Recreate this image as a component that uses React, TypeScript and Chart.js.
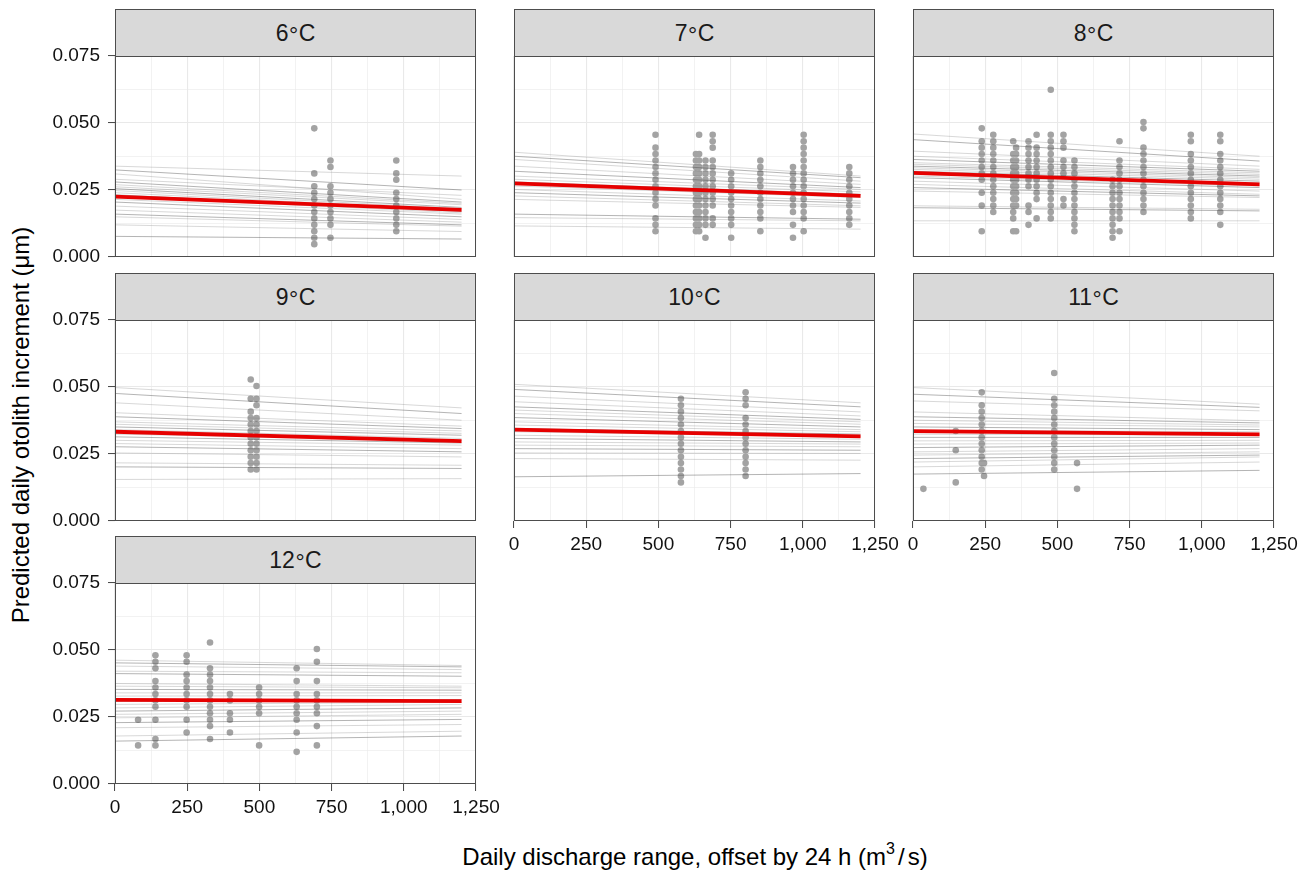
import React, { useEffect, useRef } from 'react';
import { Chart, registerables } from 'chart.js';

Chart.register(...registerables);

const FONT = "'Liberation Sans', Arial, Helvetica, sans-serif";

// ---------- tick definitions ----------
const xMajorTicks = [0, 250, 500, 750, 1000, 1250];
const xMinorTicks = [125, 375, 625, 875, 1125];
const yMajorTicks = [0, 0.025, 0.05, 0.075];
const yMinorTicks = [0.0125, 0.0375, 0.0625];

// x positions used for every predicted line
const lineX = [0, 1200];

// ---------- facet labels (temperature, °C) ----------
const facetTemps = ['6', '7', '8', '9', '10', '11', '12'];

// ---------- 6 °C ----------
const pts6X = [690, 746, 974];
const pts6Y = [
  [0.0048, 0.0072, 0.0096, 0.012, 0.0144, 0.0168, 0.0192, 0.0216, 0.024, 0.0264, 0.0312, 0.048],
  [0.0072, 0.012, 0.0144, 0.0168, 0.0192, 0.0216, 0.024, 0.0264, 0.0336, 0.036],
  [0.0096, 0.012, 0.0144, 0.0168, 0.0192, 0.0216, 0.024, 0.0288, 0.0312, 0.036],
];
const lines6Start = [0.0339, 0.0325, 0.031, 0.029, 0.028, 0.027, 0.0262, 0.0255, 0.0248, 0.024, 0.0232, 0.0225, 0.0215, 0.0205, 0.019, 0.0175, 0.016, 0.015, 0.012, 0.0077];
const lines6End = [0.0302, 0.025, 0.0215, 0.023, 0.0205, 0.02, 0.0195, 0.0185, 0.018, 0.0175, 0.017, 0.0165, 0.016, 0.015, 0.014, 0.013, 0.012, 0.0115, 0.0095, 0.0067];
const fixed6 = [0.0225, 0.0176];

// ---------- 7 °C ----------
const pts7X = [490, 630, 641, 663, 688, 752, 853, 966, 1003, 1161];
const pts7Y = [
  [0.0096, 0.012, 0.0144, 0.0192, 0.0216, 0.024, 0.0264, 0.0288, 0.0312, 0.0336, 0.036, 0.0384, 0.0408, 0.0456],
  [0.0096, 0.012, 0.0144, 0.0168, 0.0192, 0.0216, 0.024, 0.0264, 0.0288, 0.0312, 0.0336, 0.036, 0.0384],
  [0.0096, 0.012, 0.0144, 0.0168, 0.0192, 0.0216, 0.024, 0.0264, 0.0288, 0.0312, 0.0336, 0.036, 0.0384, 0.0456],
  [0.0072, 0.012, 0.0144, 0.0168, 0.0192, 0.0216, 0.024, 0.0264, 0.0288, 0.0312, 0.0336, 0.036],
  [0.012, 0.0144, 0.0192, 0.0216, 0.024, 0.0264, 0.0288, 0.0312, 0.0336, 0.036, 0.0408, 0.0432, 0.0456],
  [0.0072, 0.012, 0.0144, 0.0168, 0.0192, 0.0216, 0.024, 0.0264, 0.0288, 0.0312],
  [0.0096, 0.0144, 0.0168, 0.0192, 0.0216, 0.024, 0.0264, 0.0288, 0.0312, 0.0336, 0.036],
  [0.0072, 0.012, 0.0168, 0.0192, 0.0216, 0.024, 0.0264, 0.0288, 0.0312, 0.0336],
  [0.0096, 0.0144, 0.0168, 0.0192, 0.0216, 0.024, 0.0264, 0.0288, 0.0312, 0.0336, 0.036, 0.0384, 0.0408, 0.0432, 0.0456],
  [0.012, 0.0144, 0.0168, 0.0192, 0.0216, 0.024, 0.0264, 0.0288, 0.0312, 0.0336],
];
const lines7Start = [0.0391, 0.0376, 0.0364, 0.0339, 0.032, 0.0302, 0.029, 0.028, 0.0265, 0.0252, 0.024, 0.0228, 0.0215, 0.016, 0.0147, 0.0116];
const lines7End = [0.0302, 0.0296, 0.0283, 0.0271, 0.0259, 0.0252, 0.0243, 0.0234, 0.0222, 0.0209, 0.0201, 0.0191, 0.0185, 0.0141, 0.0135, 0.0104];
const fixed7 = [0.0275, 0.0228];

// ---------- 8 °C ----------
const pts8X = [238, 278, 347, 357, 400, 428, 477, 521, 559, 691, 715, 798, 962, 1064];
const pts8Y = [
  [0.0096, 0.0192, 0.024, 0.0288, 0.0312, 0.0336, 0.036, 0.0384, 0.0408, 0.0432, 0.048],
  [0.0168, 0.0192, 0.0216, 0.024, 0.0264, 0.0288, 0.0312, 0.0336, 0.036, 0.0384, 0.0408, 0.0432, 0.0456],
  [0.0096, 0.0144, 0.0168, 0.0192, 0.0216, 0.024, 0.0264, 0.0288, 0.0312, 0.0336, 0.036, 0.0384, 0.0432],
  [0.0096, 0.0192, 0.0216, 0.024, 0.0264, 0.0288, 0.0312, 0.0336, 0.036, 0.0384, 0.0408],
  [0.012, 0.0168, 0.0192, 0.0264, 0.0288, 0.0312, 0.0336, 0.036, 0.0384, 0.0408, 0.0432],
  [0.0144, 0.0216, 0.024, 0.0264, 0.0288, 0.0312, 0.0336, 0.036, 0.0384, 0.0408, 0.0456],
  [0.0144, 0.0168, 0.0192, 0.0216, 0.024, 0.0264, 0.0288, 0.0312, 0.0336, 0.036, 0.0384, 0.0408, 0.0432, 0.0456, 0.0624],
  [0.0192, 0.0216, 0.0312, 0.0336, 0.036, 0.0408, 0.0432, 0.0456],
  [0.0096, 0.012, 0.0144, 0.0168, 0.0192, 0.0216, 0.024, 0.0264, 0.0288, 0.0312, 0.0336, 0.036],
  [0.0072, 0.0096, 0.012, 0.0144, 0.0168, 0.0192, 0.0216, 0.024, 0.0264, 0.0288],
  [0.0096, 0.0144, 0.0168, 0.0192, 0.0216, 0.024, 0.0264, 0.0288, 0.0312, 0.0336, 0.036, 0.0432],
  [0.0168, 0.0192, 0.0216, 0.024, 0.0264, 0.0288, 0.0312, 0.0336, 0.036, 0.0384, 0.0408, 0.048, 0.0504],
  [0.0144, 0.0168, 0.0192, 0.0216, 0.024, 0.0264, 0.0288, 0.0312, 0.0336, 0.036, 0.0384, 0.0432, 0.0456],
  [0.012, 0.0168, 0.0192, 0.0216, 0.024, 0.0264, 0.0288, 0.0312, 0.0336, 0.036, 0.0384, 0.0432, 0.0456],
];
const lines8Start = [0.0459, 0.0438, 0.0395, 0.0376, 0.0364, 0.0352, 0.0346, 0.0339, 0.0333, 0.0327, 0.032, 0.0308, 0.0302, 0.0296, 0.0283, 0.0271, 0.0259, 0.0246, 0.0191, 0.0184, 0.0135];
const lines8End = [0.0376, 0.0358, 0.0339, 0.0327, 0.032, 0.0314, 0.0308, 0.0302, 0.0296, 0.029, 0.0283, 0.0277, 0.0265, 0.0259, 0.0246, 0.0234, 0.0228, 0.0222, 0.0178, 0.0172, 0.0135];
const fixed8 = [0.0314, 0.0271];

// ---------- 9 °C ----------
const pts9X = [470, 490];
const pts9Y = [
  [0.0192, 0.0216, 0.024, 0.0264, 0.0288, 0.0312, 0.0336, 0.036, 0.0384, 0.0408, 0.0456, 0.0528],
  [0.0192, 0.0216, 0.024, 0.0264, 0.0288, 0.0312, 0.0336, 0.036, 0.0384, 0.0432, 0.0456, 0.0504],
];
const lines9Start = [0.0498, 0.0476, 0.0441, 0.0404, 0.0389, 0.037, 0.0361, 0.0351, 0.0341, 0.0324, 0.0314, 0.0301, 0.0289, 0.0277, 0.0254, 0.0217, 0.0202, 0.0155];
const lines9End = [0.0422, 0.0401, 0.0376, 0.0354, 0.0345, 0.0336, 0.0327, 0.032, 0.0308, 0.0301, 0.0291, 0.0283, 0.027, 0.0258, 0.0239, 0.0208, 0.0196, 0.0158];
const fixed9 = [0.0333, 0.0298];

// ---------- 10 °C ----------
const pts10X = [578, 802];
const pts10Y = [
  [0.0144, 0.0168, 0.0192, 0.0216, 0.024, 0.0264, 0.0288, 0.0312, 0.0336, 0.036, 0.0384, 0.0408, 0.0432, 0.0456],
  [0.0168, 0.0192, 0.0216, 0.024, 0.0264, 0.0288, 0.0312, 0.0336, 0.036, 0.0384, 0.0432, 0.0456, 0.048],
];
const lines10Start = [0.051, 0.0491, 0.0466, 0.0445, 0.0426, 0.0414, 0.0401, 0.0386, 0.037, 0.0358, 0.0345, 0.0333, 0.032, 0.0308, 0.0295, 0.0283, 0.027, 0.0254, 0.0233, 0.0165];
const lines10End = [0.0441, 0.0426, 0.0407, 0.0392, 0.0379, 0.037, 0.0361, 0.0351, 0.0341, 0.0333, 0.0324, 0.0314, 0.0305, 0.0295, 0.0287, 0.0277, 0.0264, 0.0252, 0.0227, 0.0177];
const fixed10 = [0.0341, 0.0316];

// ---------- 11 °C ----------
const pts11X = [36, 148, 238, 246, 489, 568];
const pts11Y = [
  [0.012],
  [0.0144, 0.0264, 0.0336],
  [0.0192, 0.0216, 0.024, 0.0264, 0.0288, 0.0312, 0.0336, 0.036, 0.0384, 0.0408, 0.0432, 0.048],
  [0.0168, 0.0216],
  [0.0192, 0.0216, 0.024, 0.0264, 0.0288, 0.0312, 0.0336, 0.036, 0.0384, 0.0408, 0.0432, 0.0456, 0.0552],
  [0.012, 0.0216],
];
const lines11Start = [0.0498, 0.0473, 0.0448, 0.0407, 0.0389, 0.0376, 0.0364, 0.0351, 0.0339, 0.0324, 0.0312, 0.0299, 0.0287, 0.0274, 0.0258, 0.0246, 0.0233, 0.022, 0.0202, 0.0175];
const lines11End = [0.0436, 0.0424, 0.0411, 0.0374, 0.0366, 0.0358, 0.0351, 0.0341, 0.0333, 0.032, 0.0312, 0.0301, 0.0291, 0.0283, 0.027, 0.0258, 0.0246, 0.0239, 0.022, 0.0189];
const fixed11 = [0.0335, 0.0323];

// ---------- 12 °C ----------
const pts12X = [80, 140, 248, 329, 398, 499, 629, 699];
const pts12Y = [
  [0.0144, 0.024],
  [0.0144, 0.0168, 0.024, 0.0288, 0.0312, 0.0336, 0.036, 0.0384, 0.0432, 0.0456, 0.048],
  [0.0192, 0.024, 0.0288, 0.0312, 0.0336, 0.036, 0.0384, 0.0408, 0.0456, 0.048],
  [0.0168, 0.0216, 0.024, 0.0264, 0.0288, 0.0312, 0.0336, 0.036, 0.0384, 0.0408, 0.0432, 0.0528],
  [0.0192, 0.024, 0.0264, 0.0312, 0.0336],
  [0.0144, 0.0264, 0.0288, 0.0312, 0.0336, 0.036],
  [0.012, 0.0192, 0.024, 0.0264, 0.0288, 0.0312, 0.0336, 0.0384, 0.0432],
  [0.0144, 0.0216, 0.0264, 0.0288, 0.0312, 0.0336, 0.0384, 0.0456, 0.0504],
];
const lines12Start = [0.0462, 0.0452, 0.044, 0.0421, 0.0412, 0.0375, 0.0365, 0.0353, 0.034, 0.0328, 0.0309, 0.0297, 0.0284, 0.0272, 0.026, 0.0247, 0.0229, 0.021, 0.0179, 0.016];
const lines12End = [0.0442, 0.0437, 0.0427, 0.0415, 0.0402, 0.0365, 0.0359, 0.035, 0.034, 0.033, 0.0315, 0.0305, 0.0297, 0.0284, 0.0272, 0.026, 0.0241, 0.0222, 0.0197, 0.0179];
const fixed12 = [0.0314, 0.0309];

// ---------- layout ----------
const COL_LEFT = [115, 514, 913];
const ROW_TOP = [56, 320, 583];
const PANEL_W = 361;
const PANEL_H = 201;
const STRIP_H = 47;

type PanelDef = {
  temp: string;
  col: number;
  row: number;
  ptsX: number[];
  ptsY: number[][];
  starts: number[];
  ends: number[];
  fixed: number[];
  showX: boolean;
  showY: boolean;
};

const panels: PanelDef[] = [
  { temp: facetTemps[0], col: 0, row: 0, ptsX: pts6X, ptsY: pts6Y, starts: lines6Start, ends: lines6End, fixed: fixed6, showX: false, showY: true },
  { temp: facetTemps[1], col: 1, row: 0, ptsX: pts7X, ptsY: pts7Y, starts: lines7Start, ends: lines7End, fixed: fixed7, showX: false, showY: false },
  { temp: facetTemps[2], col: 2, row: 0, ptsX: pts8X, ptsY: pts8Y, starts: lines8Start, ends: lines8End, fixed: fixed8, showX: false, showY: false },
  { temp: facetTemps[3], col: 0, row: 1, ptsX: pts9X, ptsY: pts9Y, starts: lines9Start, ends: lines9End, fixed: fixed9, showX: false, showY: true },
  { temp: facetTemps[4], col: 1, row: 1, ptsX: pts10X, ptsY: pts10Y, starts: lines10Start, ends: lines10End, fixed: fixed10, showX: true, showY: false },
  { temp: facetTemps[5], col: 2, row: 1, ptsX: pts11X, ptsY: pts11Y, starts: lines11Start, ends: lines11End, fixed: fixed11, showX: true, showY: false },
  { temp: facetTemps[6], col: 0, row: 2, ptsX: pts12X, ptsY: pts12Y, starts: lines12Start, ends: lines12End, fixed: fixed12, showX: true, showY: true },
];

const xAllTicks = [...xMajorTicks, ...xMinorTicks].sort((a, b) => a - b);
const yAllTicks = [...yMajorTicks, ...yMinorTicks].sort((a, b) => a - b);
const isMajorX = (v: number) => xMajorTicks.some((t) => Math.abs(t - v) < 1e-6);
const isMajorY = (v: number) => yMajorTicks.some((t) => Math.abs(t - v) < 1e-9);

const PL = 80;
const PR = 36;
const PT = 26;
const PB = 44;

const borderPlugin = {
  id: 'panelBorder',
  afterDraw(chart: any) {
    const { ctx, chartArea: a } = chart;
    ctx.save();
    ctx.strokeStyle = '#4d4d4d';
    ctx.lineWidth = 1;
    ctx.strokeRect(a.left + 0.5, a.top + 0.5, a.right - a.left - 1, a.bottom - a.top - 1);
    ctx.restore();
  },
};

function Panel({ def }: { def: PanelDef }) {
  const ref = useRef<HTMLCanvasElement | null>(null);
  const left = COL_LEFT[def.col];
  const top = ROW_TOP[def.row];
  const cw = PANEL_W + PL + PR;
  const ch = PANEL_H + PT + PB;

  useEffect(() => {
    if (!ref.current) return;
    const points = def.ptsX.flatMap((x, i) => def.ptsY[i].map((y) => ({ x, y })));
    const thin = def.starts.map((s, i) => ({
      data: [
        { x: lineX[0], y: s },
        { x: lineX[1], y: def.ends[i] },
      ],
      showLine: true,
      borderColor: i % 3 === 1 ? 'rgba(70,70,70,0.45)' : 'rgba(110,110,110,0.3)',
      borderWidth: 0.9,
      pointRadius: 0,
      order: 2,
    }));
    const chart = new Chart(ref.current, {
      type: 'scatter',
      data: {
        datasets: [
          {
            data: points,
            pointRadius: 3.3,
            pointBackgroundColor: '#a3a3a3',
            pointBorderWidth: 0,
            pointBorderColor: 'rgba(0,0,0,0)',
            order: 3,
          } as any,
          ...thin,
          {
            data: [
              { x: lineX[0], y: def.fixed[0] },
              { x: lineX[1], y: def.fixed[1] },
            ],
            showLine: true,
            borderColor: '#e60000',
            borderWidth: 3.8,
            pointRadius: 0,
            order: 1,
          },
        ],
      },
      options: {
        responsive: false,
        animation: false,
        events: [],
        layout: { autoPadding: false, padding: { left: 0, right: PR, top: PT, bottom: 0 } },
        plugins: {
          legend: { display: false },
          tooltip: { enabled: false },
          title: { display: false },
        },
        scales: {
          x: {
            type: 'linear',
            min: 0,
            max: 1250,
            afterBuildTicks: (s: any) => {
              s.ticks = xAllTicks.map((v) => ({ value: v }));
            },
            afterFit: (s: any) => {
              s.height = PB;
            },
            grid: {
              color: '#e9e9e9',
              lineWidth: (c: any) => (c.tick && isMajorX(c.tick.value) ? 1.1 : 0.6),
              drawTicks: def.showX,
              tickLength: 7,
              tickWidth: 1,
              tickColor: (c: any) => (c.tick && isMajorX(c.tick.value) ? '#444444' : 'rgba(0,0,0,0)'),
            },
            border: { display: false },
            ticks: {
              display: def.showX,
              autoSkip: false,
              maxRotation: 0,
              minRotation: 0,
              padding: 5,
              color: '#111111',
              font: { size: 19, family: FONT },
              callback: (v: any) => (isMajorX(Number(v)) ? Number(v).toLocaleString('en-US') : ''),
            },
          },
          y: {
            type: 'linear',
            min: 0,
            max: 0.075,
            afterBuildTicks: (s: any) => {
              s.ticks = yAllTicks.map((v) => ({ value: v }));
            },
            afterFit: (s: any) => {
              s.width = PL;
            },
            grid: {
              color: '#e9e9e9',
              lineWidth: (c: any) => (c.tick && isMajorY(c.tick.value) ? 1.1 : 0.6),
              drawTicks: def.showY,
              tickLength: 7,
              tickWidth: 1,
              tickColor: (c: any) => (c.tick && isMajorY(c.tick.value) ? '#444444' : 'rgba(0,0,0,0)'),
            },
            border: { display: false },
            ticks: {
              display: def.showY,
              autoSkip: false,
              padding: 8,
              color: '#111111',
              font: { size: 19, family: FONT },
              callback: (v: any) => (isMajorY(Number(v)) ? Number(v).toFixed(3) : ''),
            },
          },
        },
      },
      plugins: [borderPlugin],
    } as any);
    return () => chart.destroy();
  }, [def]);

  return (
    <>
      <canvas
        ref={ref}
        width={cw}
        height={ch}
        style={{ position: 'absolute', left: left - PL, top: top - PT, width: cw, height: ch }}
      />
      <div
        style={{
          position: 'absolute',
          left,
          top: top - STRIP_H,
          width: PANEL_W,
          height: STRIP_H + 1,
          boxSizing: 'border-box',
          background: '#d9d9d9',
          border: '1px solid #4d4d4d',
          display: 'flex',
          alignItems: 'center',
          justifyContent: 'center',
          fontFamily: FONT,
          fontSize: 23,
          color: '#1a1a1a',
        }}
      >
        <span>
          {def.temp}
          <span style={{ position: 'relative', top: 2, margin: '0 0.5px' }}>°</span>C
        </span>
      </div>
    </>
  );
}

export default function App() {
  return (
    <div
      style={{
        position: 'absolute',
        left: 0,
        top: 0,
        width: 1315,
        height: 871,
        background: '#ffffff',
        overflow: 'hidden',
      }}
    >
      {panels.map((p) => (
        <Panel key={p.temp} def={p} />
      ))}
      <div
        style={{
          position: 'absolute',
          left: 21,
          top: 425,
          transform: 'translate(-50%, -50%) rotate(-90deg)',
          whiteSpace: 'nowrap',
          fontFamily: FONT,
          fontSize: 24,
          color: '#000',
        }}
      >
        Predicted daily otolith increment (μm)
      </div>
      <div
        style={{
          position: 'absolute',
          left: 695,
          top: 857,
          transform: 'translate(-50%, -50%)',
          whiteSpace: 'nowrap',
          fontFamily: FONT,
          fontSize: 24,
          color: '#000',
        }}
      >
        Daily discharge range, offset by 24 h (m<sup style={{ fontSize: 16, verticalAlign: 'baseline', position: 'relative', top: -11 }}>3</sup>
        <span style={{ margin: '0 3px' }}>/</span>s)
      </div>
    </div>
  );
}
